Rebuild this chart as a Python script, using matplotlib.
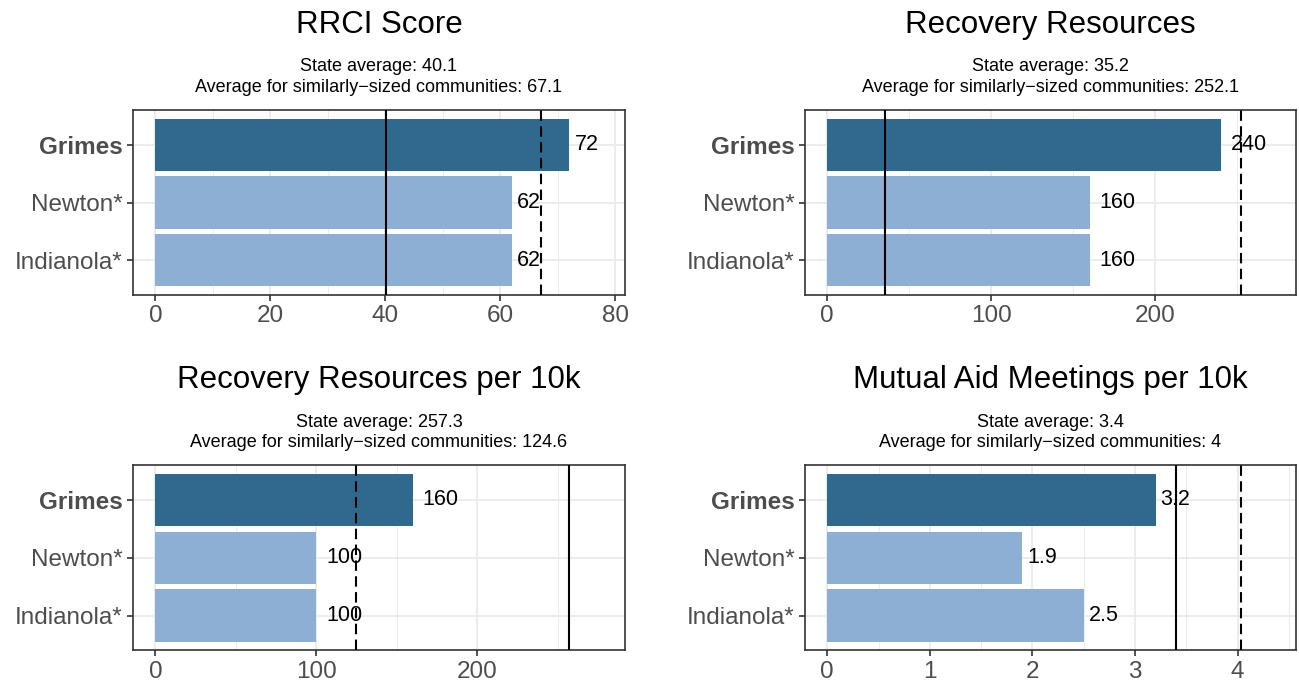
import matplotlib
matplotlib.use('Agg')
import matplotlib.pyplot as plt
from matplotlib.ticker import MultipleLocator

plt.rcParams['font.family'] = ['Liberation Sans', 'DejaVu Sans']

# data
communities = ['Grimes', 'Newton*', 'Indianola*']
titles = ['RRCI Score', 'Recovery Resources',
          'Recovery Resources per 10k', 'Mutual Aid Meetings per 10k']
rrci_score = [72, 62, 62]
recovery_resources = [240, 160, 160]
resources_per_10k = [160, 100, 100]
meetings_per_10k = [3.2, 1.9, 2.5]
state_avg = [40.1, 35.2, 257.3, 3.4]
similar_avg = [67.1, 252.1, 124.6, 4.03]
tick_step = [20, 100, 100, 1]

DARK = '#2F6A8E'
LIGHT = '#8DAFD3'
GRID = '#EBEBEB'
BORDER = '#333333'
TICKTXT = '#4D4D4D'


def fmt(v):
    return f"{round(v, 1):g}"


def draw_panel(ax, title, values, state, similar, step):
    ypos = list(range(len(values)))[::-1]
    colors = [DARK] + [LIGHT] * (len(values) - 1)

    m = max(max(values), state, similar) * 1.08
    ax.set_xlim(-0.05 * m, 1.05 * m)
    ax.set_ylim(-0.6, len(values) - 0.4)

    # grid like theme_bw
    ax.xaxis.set_major_locator(MultipleLocator(step))
    ax.xaxis.set_minor_locator(MultipleLocator(step / 2))
    ax.set_yticks(ypos)
    ax.grid(True, which='major', color=GRID, lw=1.3, zorder=0)
    ax.grid(True, which='minor', axis='x', color=GRID, lw=0.7, zorder=0)
    ax.set_axisbelow(True)

    ax.barh(ypos, values, height=0.9, color=colors, zorder=2)

    ax.axvline(state, color='black', lw=1.5, zorder=3)
    ax.axvline(similar, color='black', lw=1.5, ls=(0, (5, 2.6)), zorder=3)

    # value labels to the right of the bars
    for y, v in zip(ypos, values):
        label = fmt(v)
        ndig = sum(c.isdigit() for c in label)
        gap = 5 * max(ndig - 1, 1) * 0.72
        ax.annotate(label, xy=(v, y), xytext=(gap, 0), textcoords='offset points',
                    ha='left', va='center', fontsize=15.5, color='black', zorder=4)

    ax.set_yticklabels(communities, fontsize=17.5, color=TICKTXT)
    ax.get_yticklabels()[0].set_fontweight('bold')
    ax.tick_params(axis='x', labelsize=17.5, labelcolor=TICKTXT)
    ax.tick_params(which='major', length=4.5, width=1.2, color=BORDER, pad=3)
    ax.tick_params(which='minor', length=0)

    for s in ax.spines.values():
        s.set_color(BORDER)
        s.set_linewidth(1.2)

    ax.annotate(title, xy=(0.5, 1), xycoords='axes fraction', xytext=(0, 61),
                textcoords='offset points', ha='center', va='center', fontsize=22.5)
    ax.annotate(f"State average: {fmt(state)}", xy=(0.5, 1), xycoords='axes fraction',
                xytext=(0, 31), textcoords='offset points', ha='center',
                va='center', fontsize=13)
    ax.annotate(f"Average for similarly\u2212sized communities: {fmt(similar)}",
                xy=(0.5, 1), xycoords='axes fraction', xytext=(0, 16.5),
                textcoords='offset points', ha='center', va='center', fontsize=13)


if __name__ == "__main__":
    fig = plt.figure(figsize=(12.99, 6.83), dpi=100)
    series = [rrci_score, recovery_resources, resources_per_10k, meetings_per_10k]
    boxes = [[0.1024, 0.568, 0.3787, 0.271],
             [0.6197, 0.568, 0.3780, 0.271],
             [0.1024, 0.048, 0.3787, 0.271],
             [0.6197, 0.048, 0.3780, 0.271]]
    for i in range(4):
        ax = fig.add_axes(boxes[i])
        draw_panel(ax, titles[i], series[i], state_avg[i], similar_avg[i], tick_step[i])
    fig.savefig('out.png', dpi=100)
